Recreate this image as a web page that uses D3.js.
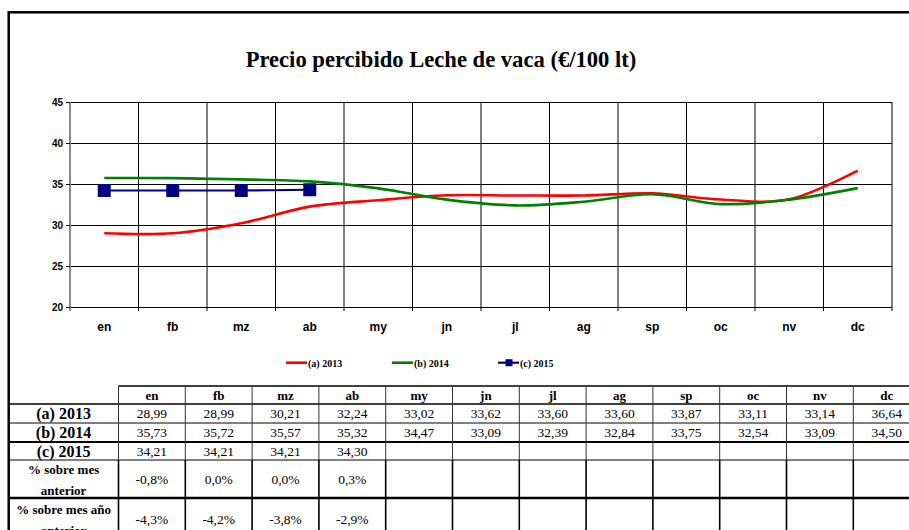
<!DOCTYPE html>
<html>
<head>
<meta charset="utf-8">
<script src="https://cdn.jsdelivr.net/npm/d3@7"></script>
<style>
  html, body { margin: 0; padding: 0; background: #fff; }
  svg { display: block; }
  .serif { font-family: "Liberation Serif", "Times New Roman", serif; }
  .sans { font-family: "Liberation Sans", Arial, sans-serif; }
</style>
</head>
<body>
<svg id="chart" width="909" height="530"></svg>
<script>
// Months (axis and table columns)
const months = ["en", "fb", "mz", "ab", "my", "jn", "jl", "ag", "sp", "oc", "nv", "dc"];
// Price received, €/100 l
const price2013 = [28.99, 28.99, 30.21, 32.24, 33.02, 33.62, 33.60, 33.60, 33.87, 33.11, 33.14, 36.64];
const price2014 = [35.73, 35.72, 35.57, 35.32, 34.47, 33.09, 32.39, 32.84, 33.75, 32.54, 33.09, 34.50];
const price2015 = [34.21, 34.21, 34.21, 34.30];
// Change vs previous month and vs same month of previous year (%)
const pctPrevMonth = [-0.8, 0.0, 0.0, 0.3];
const pctPrevYear = [-4.3, -4.2, -3.8, -2.9];
// Axis ticks
const yTicks = [20, 25, 30, 35, 40, 45];
const seriesNames = ["(a) 2013", "(b) 2014", "(c) 2015"];
const rowLabels = ["(a) 2013", "(b) 2014", "(c) 2015"];

const svg = d3.select("#chart");
svg.append("rect").attr("width", 909).attr("height", 530).attr("fill", "#fff");

// Outer frame
svg.append("rect")
  .attr("x", 8.7).attr("y", 12.3).attr("width", 1000).attr("height", 700)
  .attr("fill", "none").attr("stroke", "#000").attr("stroke-width", 2.5);

// Title
svg.append("text").attr("class", "serif")
  .attr("x", 441).attr("y", 67)
  .attr("text-anchor", "middle")
  .attr("font-weight", "bold").attr("font-size", 22.6)
  .text("Precio percibido Leche de vaca (€/100 lt)");

// Scales
const plot = { left: 70, right: 892, top: 102, bottom: 307 };
const x = d3.scaleBand().domain(months).range([plot.left, plot.right]).padding(0);
const y = d3.scaleLinear().domain([20, 45]).range([plot.bottom, plot.top]);
const cx = m => x(m) + x.bandwidth() / 2;

const g = svg.append("g");

// Horizontal grid lines
g.selectAll("line.hgrid").data(yTicks).join("line")
  .attr("class", "hgrid")
  .attr("x1", plot.left).attr("x2", plot.right)
  .attr("y1", d => Math.round(y(d)) + 0.5).attr("y2", d => Math.round(y(d)) + 0.5)
  .attr("stroke", "#000").attr("stroke-width", 1);

// Vertical grid lines at category boundaries, extending into x ticks
const bounds = months.map(m => x(m)).concat([plot.right]);
g.selectAll("line.vgrid").data(bounds.slice(1)).join("line")
  .attr("class", "vgrid")
  .attr("x1", d => d).attr("x2", d => d)
  .attr("y1", plot.top).attr("y2", plot.bottom + 4)
  .attr("stroke", "#000").attr("stroke-width", 1);

// Y axis
const yAxis = d3.axisLeft(y).tickValues(yTicks).tickSize(4).tickPadding(3);
const ya = svg.append("g").attr("transform", `translate(${plot.left},0)`).call(yAxis);
ya.select(".domain").attr("stroke", "#888").attr("stroke-width", 2)
  .attr("d", `M0,${plot.top}V${plot.bottom + 4}`);
ya.selectAll(".tick line").attr("stroke", "#000");
ya.selectAll(".tick text")
  .attr("class", "sans").attr("font-weight", "bold").attr("font-size", 10)
  .attr("fill", "#000");

// X labels
svg.selectAll("text.xlab").data(months).join("text")
  .attr("class", "xlab sans")
  .attr("x", d => cx(d)).attr("y", 331)
  .attr("text-anchor", "middle")
  .attr("font-weight", "bold").attr("font-size", 12)
  .text(d => d);

// Lines
const smooth = d3.line()
  .x(d => cx(d.m)).y(d => y(d.v))
  .curve(d3.curveCatmullRom.alpha(0));
const toPts = arr => arr.map((v, i) => ({ m: months[i], v }));

svg.append("path").datum(toPts(price2013))
  .attr("d", smooth).attr("fill", "none")
  .attr("stroke", "#ff0000").attr("stroke-width", 2.6);
svg.append("path").datum(toPts(price2014))
  .attr("d", smooth).attr("fill", "none")
  .attr("stroke", "#008000").attr("stroke-width", 2.6);
svg.append("path").datum(toPts(price2015))
  .attr("d", smooth).attr("fill", "none")
  .attr("stroke", "#000080").attr("stroke-width", 2.2);
svg.selectAll("rect.mk").data(toPts(price2015)).join("rect")
  .attr("class", "mk")
  .attr("x", d => cx(d.m) - 6.5).attr("y", d => y(d.v) - 6.5)
  .attr("width", 13).attr("height", 13)
  .attr("fill", "#000080");

// Legend
const legendItems = [
  { name: seriesNames[0], color: "#ff0000", x: 286, marker: false },
  { name: seriesNames[1], color: "#008000", x: 392, marker: false },
  { name: seriesNames[2], color: "#000080", x: 498, marker: true }
];
const lg = svg.append("g");
legendItems.forEach(it => {
  lg.append("line").attr("x1", it.x).attr("x2", it.x + 21)
    .attr("y1", 362.7).attr("y2", 362.7)
    .attr("stroke", it.color).attr("stroke-width", it.marker ? 2.2 : 2.6);
  if (it.marker) {
    lg.append("rect").attr("x", it.x + 7.5).attr("y", 359.2)
      .attr("width", 7).attr("height", 7).attr("fill", it.color);
  }
  lg.append("text").attr("class", "serif")
    .attr("x", it.x + 22).attr("y", 366.5)
    .attr("font-weight", "bold").attr("font-size", 10)
    .text(it.name);
});

// Data table
const fmt = v => v.toFixed(2).replace(".", ",");
const fmtPct = v => v.toFixed(1).replace(".", ",") + "%";
const tbl = { left: 8.7, labelRight: 118.5, colW: 66.8 };
const rowY = [386, 404, 423, 442, 460, 498, 540];
const colX = months.map((m, i) => tbl.labelRight + i * tbl.colW);
const colC = colX.map(v => v + tbl.colW / 2);
const tableRight = tbl.labelRight + 12 * tbl.colW;
const tg = svg.append("g");

// horizontal rules
const hRules = [
  { y: rowY[0], x1: tbl.labelRight, w: 1.6 },
  { y: rowY[1], x1: tbl.left, w: 1.6 },
  { y: rowY[2], x1: tbl.left, w: 1 },
  { y: rowY[3], x1: tbl.left, w: 2 },
  { y: rowY[4], x1: tbl.left, w: 1 },
  { y: rowY[5], x1: tbl.left, w: 2.5 }
];
tg.selectAll("line.hr").data(hRules).join("line")
  .attr("x1", d => d.x1).attr("x2", tableRight)
  .attr("y1", d => d.y).attr("y2", d => d.y)
  .attr("stroke", "#000").attr("stroke-width", d => d.w);

// vertical rules
const vx = colX.concat([tableRight]);
tg.selectAll("line.vt").data(vx).join("line")
  .attr("x1", d => d).attr("x2", d => d)
  .attr("y1", rowY[0]).attr("y2", rowY[4])
  .attr("stroke", "#333").attr("stroke-width", 1);
tg.selectAll("line.vb").data(vx).join("line")
  .attr("x1", d => d).attr("x2", d => d)
  .attr("y1", rowY[4]).attr("y2", 540)
  .attr("stroke", "#000").attr("stroke-width", 1.6);

// header
tg.selectAll("text.hd").data(months).join("text")
  .attr("class", "serif").attr("x", (d, i) => colC[i]).attr("y", 399.5)
  .attr("text-anchor", "middle").attr("font-weight", "bold").attr("font-size", 13)
  .text(d => d);

// series rows
const rows = [price2013, price2014, price2015];
rows.forEach((arr, r) => {
  const mid = (rowY[r + 1] + rowY[r + 2]) / 2;
  tg.append("text").attr("class", "serif")
    .attr("x", (tbl.left + tbl.labelRight) / 2).attr("y", mid + 5.5)
    .attr("text-anchor", "middle").attr("font-weight", "bold").attr("font-size", 16)
    .text(rowLabels[r]);
  tg.selectAll(null).data(arr).join("text")
    .attr("class", "serif").attr("x", (d, i) => colC[i]).attr("y", mid + 4.5)
    .attr("text-anchor", "middle").attr("font-size", 13.5)
    .text(d => fmt(d));
});

// percentage rows
const pctRows = [
  { lines: ["% sobre mes", "anterior"], vals: pctPrevMonth, y0: rowY[4], y1: rowY[5] },
  { lines: ["% sobre mes año", "anterior"], vals: pctPrevYear, y0: rowY[5], y1: rowY[6] }
];
pctRows.forEach(pr => {
  const mid = (pr.y0 + pr.y1) / 2;
  pr.lines.forEach((t, k) => {
    tg.append("text").attr("class", "serif")
      .attr("x", (tbl.left + tbl.labelRight) / 2).attr("y", mid - 5 + k * 21)
      .attr("text-anchor", "middle").attr("font-weight", "bold").attr("font-size", 13)
      .text(t);
  });
  tg.selectAll(null).data(pr.vals).join("text")
    .attr("class", "serif").attr("x", (d, i) => colC[i]).attr("y", mid + 5)
    .attr("text-anchor", "middle").attr("font-size", 13.5)
    .text(d => fmtPct(d));
});
</script>
</body>
</html>
